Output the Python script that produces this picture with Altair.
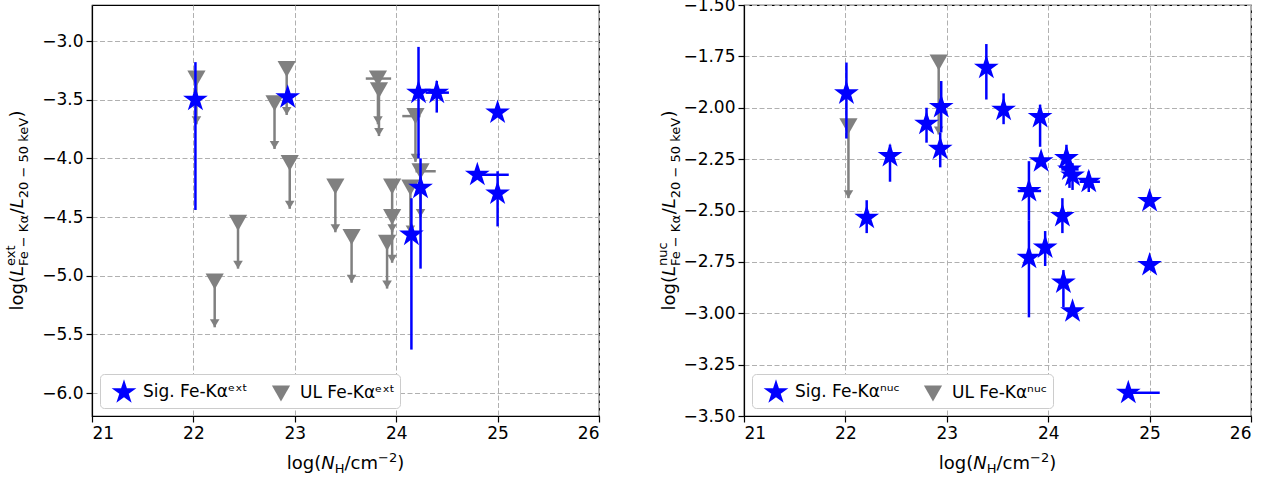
import altair as alt
import pandas as pd

FONT = "DejaVu Sans"
BLUE = "#0000ff"
GRAY = "#808080"

# ---------------- data: left panel (extended Fe-K alpha) ----------------
ext_sig_x = [22.02, 22.93, 24.22, 24.40, 25.00, 24.80, 25.00, 24.24, 24.15]
ext_sig_y = [-3.50, -3.48, -3.44, -3.44, -3.61, -4.14, -4.30, -4.25, -4.65]
ext_sig_ylo = [-4.44, -3.48, -4.00, -3.61, -3.61, -4.14, -4.58, -4.94, -5.63]
ext_sig_yhi = [-3.18, -3.48, -3.05, -3.34, -3.61, -4.14, -4.11, -4.00, -4.34]
ext_sig_xlo = [22.02, 22.93, 24.22, 24.29, 25.00, 24.80, 25.00, 24.24, 24.15]
ext_sig_xhi = [22.02, 22.93, 24.22, 24.52, 25.00, 25.11, 25.00, 24.24, 24.15]

ext_ul_x = [22.03, 22.92, 22.80, 22.95, 23.82, 23.83, 23.40, 23.56, 22.44, 22.21,
            23.96, 23.96, 23.91, 24.19, 24.24, 24.14]
ext_ul_y = [-3.32, -3.24, -3.53, -4.04, -3.32, -3.42, -4.24, -4.67, -4.55, -5.05,
            -4.24, -4.50, -4.72, -3.64, -4.11, -4.25]
ext_ul_xlo = [22.03, 22.92, 22.80, 22.95, 23.70, 23.83, 23.40, 23.56, 22.44, 22.21,
              23.96, 23.96, 23.91, 24.06, 24.19, 24.14]
ext_ul_xhi = [22.03, 22.92, 22.80, 22.95, 23.95, 23.83, 23.40, 23.56, 22.44, 22.21,
              23.96, 23.96, 23.91, 24.24, 24.39, 24.14]
ext_arrow = 0.39

# ---------------- data: right panel (nuclear Fe-K alpha) ----------------
nuc_sig_x = [22.01, 22.21, 22.44, 22.80, 22.945, 22.935, 23.39, 23.56, 23.92, 23.93,
             23.81, 23.81, 23.97, 24.14, 24.15, 24.24, 24.18, 24.21, 24.24, 24.40,
             25.00, 25.00, 24.79]
nuc_sig_y = [-1.93, -2.535, -2.235, -2.078, -1.996, -2.20, -1.805, -2.01, -2.045, -2.26,
             -2.405, -2.73, -2.68, -2.527, -2.85, -2.99, -2.245, -2.30, -2.33, -2.36,
             -2.454, -2.765, -3.387]
nuc_sig_ylo = [-2.15, -2.61, -2.36, -2.17, -2.12, -2.29, -1.96, -2.08, -2.19, -2.26,
               -2.55, -3.02, -2.77, -2.61, -2.97, -2.99, -2.31, -2.39, -2.40, -2.41,
               -2.454, -2.765, -3.387]
nuc_sig_yhi = [-1.78, -2.45, -2.18, -2.00, -1.87, -2.12, -1.69, -1.93, -1.985, -2.26,
               -2.26, -2.55, -2.60, -2.44, -2.79, -2.99, -2.18, -2.24, -2.27, -2.31,
               -2.454, -2.765, -3.387]
nuc_sig_xlo = [22.01, 22.21, 22.44, 22.80, 22.945, 22.935, 23.39, 23.56, 23.92, 23.93,
               23.70, 23.81, 23.97, 24.14, 24.15, 24.24, 24.18, 24.13, 24.24, 24.31,
               25.00, 25.00, 24.79]
nuc_sig_xhi = [22.01, 22.21, 22.44, 22.80, 22.945, 22.935, 23.39, 23.56, 23.92, 23.93,
               23.93, 23.81, 23.97, 24.14, 24.15, 24.24, 24.18, 24.30, 24.24, 24.51,
               25.00, 25.00, 25.10]

nuc_ul_x = [22.03, 22.92]
nuc_ul_y = [-2.09, -1.78]
nuc_ul_xlo = [22.03, 22.92]
nuc_ul_xhi = [22.03, 22.92]
nuc_arrow = 0.35

x_ticks = [21, 22, 23, 24, 25, 26]
ext_y_ticks = [-6.0, -5.5, -5.0, -4.5, -4.0, -3.5, -3.0]
nuc_y_ticks = [-3.5, -3.25, -3.0, -2.75, -2.5, -2.25, -2.0, -1.75, -1.5]
ext_y_domain = [-6.196, -2.693]
nuc_y_domain = [-3.5, -1.5]
ext_labels = ["Sig. Fe-K\u03b1\u1d49\u02e3\u1d57", "UL Fe-K\u03b1\u1d49\u02e3\u1d57"]
nuc_labels = ["Sig. Fe-K\u03b1\u207f\u1d58\u1d9c", "UL Fe-K\u03b1\u207f\u1d58\u1d9c"]

# ---------------- styling ----------------
STAR = ("M0,-1L0.2245,-0.309L0.951,-0.309L0.363,0.118L0.588,0.809L0,0.382"
        "L-0.588,0.809L-0.363,0.118L-0.951,-0.309L-0.2245,-0.309Z")
TRI = "M-0.7,-0.62L0.7,-0.62L0,0.62Z"
CARET = "M-0.6,-1L0.6,-1L0,0Z"
W, H = 507, 411
FS = 17      # tick / legend labels
TS = 18      # axis title main size
SS = 13      # axis title script size

ADV = {'l': 0.278, 'o': 0.612, 'g': 0.635, '(': 0.390, ')': 0.390, 'L': 0.557,
       'N': 0.748, 'H': 0.752, '/': 0.337, 'c': 0.550, 'm': 0.974, '\u2212': 0.838,
       '2': 0.636, '0': 0.636, '5': 0.636, 'e': 0.615, 'x': 0.592, 't': 0.392,
       'F': 0.575, 'K': 0.656, '\u03b1': 0.659, ' ': 0.318, 'k': 0.579, 'V': 0.684,
       'n': 0.634, 'u': 0.634, 'v': 0.592, '\u2009': 0.2}


def width(s, size):
    return sum(ADV.get(ch, 0.6) for ch in s) * size


def rich(pieces, x, y, angle):
    """pieces: list of groups; each group is a list of (text, size, italic, shift)
    drawn at the same start offset; advance = widest member."""
    layout = []
    pos = 0.0
    for grp in pieces:
        w = 0
        for (t, size, ital, shift) in grp:
            layout.append((t, size, ital, shift, pos))
            w = max(w, width(t, size))
        pos += w
    total = pos
    one = pd.DataFrame({"d": [0]})
    layers = []
    for (t, size, ital, shift, p) in layout:
        layers.append(
            alt.Chart(one).mark_text(
                font=FONT, fontSize=size, fontStyle="italic" if ital else "normal",
                align="left", baseline="alphabetic", angle=angle, color="black",
                dx=p - total / 2, dy=shift,
            ).encode(x=alt.value(x), y=alt.value(y), text=alt.value(t))
        )
    return layers


def ytitle(sup):
    return [
        [("log(", TS, False, 0)],
        [("L", TS, True, 0)],
        [(sup, SS, False, -8), ("Fe \u2212 K\u03b1", SS, False, 5)],
        [("/", TS, False, 0)],
        [("L", TS, True, 0)],
        [("20 \u2212 50 keV", SS, False, 5)],
        [(")", TS, False, 0)],
    ]


xtitle = [
    [("log(", TS, False, 0)],
    [("N", TS, True, 0)],
    [("H", SS, False, 4)],
    [("/cm", TS, False, 0)],
    [("\u22122", SS, False, -7)],
    [(")", TS, False, 0)],
]


def panel(sx, sy, sylo, syhi, sxlo, sxhi, ux, uy, uxlo, uxhi, arrow,
          ydom, yticks, yfmt, labels, sup):
    sig = pd.DataFrame({"x": sx, "y": sy, "ylo": sylo, "yhi": syhi,
                        "xlo": sxlo, "xhi": sxhi, "label": labels[0]})
    ul = pd.DataFrame({"x": ux, "y": uy, "xlo": uxlo, "xhi": uxhi, "label": labels[1]})
    ul["tip"] = ul["y"] - arrow

    xs = alt.Scale(domain=[21, 26], nice=False, zero=False)
    ys = alt.Scale(domain=ydom, nice=False, zero=False)
    xax = alt.Axis(values=x_ticks, format="d", title=None, grid=True)
    yax = alt.Axis(values=yticks, format=yfmt, title=None, grid=True)

    def X(f):
        return alt.X(f, type="quantitative", scale=xs, axis=xax)

    def Y(f):
        return alt.Y(f, type="quantitative", scale=ys, axis=yax)

    color = alt.Color("label:N", scale=alt.Scale(domain=labels, range=[BLUE, GRAY]),
                      legend=alt.Legend(title=None))
    shape = alt.Shape("label:N", scale=alt.Scale(domain=labels, range=[STAR, TRI]),
                      legend=alt.Legend(title=None))

    ul_shaft = alt.Chart(ul).mark_rule(color=GRAY, strokeWidth=2.5).encode(
        x=X("x"), y=Y("y"), y2="tip")
    ul_head = alt.Chart(ul).mark_point(shape=CARET, filled=True, size=256,
                                       color=GRAY, opacity=1).encode(x=X("x"), y=Y("tip"))
    ul_xerr = alt.Chart(ul).mark_rule(color=GRAY, strokeWidth=2.5).encode(
        x=X("xlo"), x2="xhi", y=Y("y"))
    ul_pts = alt.Chart(ul).mark_point(filled=True, size=676, opacity=1).encode(
        x=X("x"), y=Y("y"), color=color, shape=shape)
    sig_yerr = alt.Chart(sig).mark_rule(color=BLUE, strokeWidth=2.5).encode(
        x=X("x"), y=Y("ylo"), y2="yhi")
    sig_xerr = alt.Chart(sig).mark_rule(color=BLUE, strokeWidth=2.5).encode(
        x=X("xlo"), x2="xhi", y=Y("y"))
    sig_pts = alt.Chart(sig).mark_point(filled=True, size=676, opacity=1).encode(
        x=X("x"), y=Y("y"), color=color, shape=shape)

    titles = rich(ytitle(sup), -69, H / 2, 270) + rich(xtitle, W / 2, 464, 0)
    return alt.layer(ul_shaft, ul_head, ul_xerr, ul_pts, sig_yerr, sig_xerr, sig_pts,
                     *titles).properties(width=W, height=H)


left = panel(ext_sig_x, ext_sig_y, ext_sig_ylo, ext_sig_yhi, ext_sig_xlo, ext_sig_xhi,
             ext_ul_x, ext_ul_y, ext_ul_xlo, ext_ul_xhi, ext_arrow,
             ext_y_domain, ext_y_ticks, ".1f", ext_labels, "ext")
right = panel(nuc_sig_x, nuc_sig_y, nuc_sig_ylo, nuc_sig_yhi, nuc_sig_xlo, nuc_sig_xhi,
              nuc_ul_x, nuc_ul_y, nuc_ul_xlo, nuc_ul_xhi, nuc_arrow,
              nuc_y_domain, nuc_y_ticks, ".2f", nuc_labels, "nuc")

chart = alt.hconcat(left, right, spacing=55).resolve_scale(
    color="independent", shape="independent"
).properties(
    padding={"left": 4, "top": -5, "right": 5, "bottom": 0}
).configure_view(
    stroke="black", strokeWidth=1.2
).configure_axis(
    labelFont=FONT, labelFontSize=FS, labelColor="black", tickColor="black",
    domainColor="black", domainWidth=1.2, tickWidth=1.2, tickSize=6, labelPadding=3,
    gridColor="#b0b0b0", gridDash=[5, 2.5], gridWidth=1, gridOpacity=1,
).configure_legend(
    orient="bottom-left", offset=8, direction="horizontal", fillColor="white",
    strokeColor="#cccccc", cornerRadius=4, padding=5, labelFont=FONT,
    labelFontSize=FS, labelColor="black", symbolSize=676, symbolStrokeWidth=0,
    symbolOffset=6, columnPadding=14, labelOffset=6, symbolOpacity=1,
)

chart.save("out.html", embed_options={"renderer": "svg", "actions": False})
